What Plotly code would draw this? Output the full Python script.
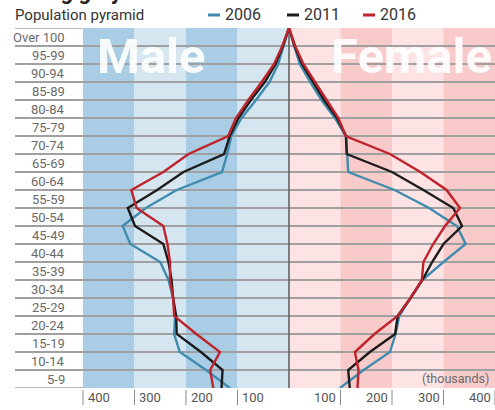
import plotly.graph_objects as go

# ---- data (thousands), listed from the top boundary (oldest) to the bottom boundary ----
age_groups = ["Over 100", "95-99", "90-94", "85-89", "80-84", "75-79", "70-74",
              "65-69", "60-64", "55-59", "50-54", "45-49", "40-44", "35-39",
              "30-34", "25-29", "20-24", "15-19", "10-14", "5-9"]
years = ["2006", "2011", "2016"]

male_2006 = [0, 11, 21, 38, 64, 92, 112, 120, 130, 218, 278, 323, 308, 250, 234, 225, 221, 223, 212, 161, 115]
male_2011 = [0, 12, 26, 47, 74, 98, 115, 126, 205, 256, 313, 299, 244, 234, 228, 225, 219, 218, 171, 129, 131]
male_2016 = [0, 13, 29, 53, 79, 103, 118, 195, 244, 306, 296, 244, 236, 231, 231, 225, 223, 180, 134, 153, 147]

female_2006 = [0, 10, 21, 41, 63, 89, 110, 113, 115, 205, 272, 326, 343, 300, 259, 236, 214, 207, 196, 145, 99]
female_2011 = [0, 11, 25, 46, 68, 93, 111, 112, 200, 261, 319, 336, 300, 278, 259, 236, 211, 206, 157, 115, 118]
female_2016 = [0, 12, 28, 50, 73, 96, 110, 196, 255, 306, 332, 303, 280, 261, 258, 236, 211, 166, 128, 135, 133]

tick_values = [100, 200, 300, 400]

male = {"2006": male_2006, "2011": male_2011, "2016": male_2016}
female = {"2006": female_2006, "2011": female_2011, "2016": female_2016}
colors = {"2006": "#3f8cae", "2011": "#1c1c1c", "2016": "#c0232c"}

FONT = "Roboto"
n = len(male_2006)
levels = list(range(n - 1, -1, -1))  # top boundary -> bottom boundary

fig = go.Figure()
for yr in years:
    xs = [-v for v in reversed(male[yr])] + female[yr][1:]
    ys = list(reversed(levels)) + levels[1:]
    fig.add_trace(go.Scatter(x=xs, y=ys, mode="lines", name=yr,
                             line=dict(color=colors[yr], width=2.4),
                             hoverinfo="skip"))

PW, PH, ML, MT = 480, 360, 15, 28  # plot area size and offsets (px)


def px_x(p):
    return (p - ML) / PW


def px_y(p):
    return 1 - (p - MT) / PH


shapes = []
# background bands
edges = [-400, -300, -200, -100, 0, 100, 200, 300, 400]
band_cols = ["#a9cde4", "#d6e6f1", "#a9cde4", "#d6e6f1",
             "#fde3e3", "#f9caca", "#fde3e3", "#f9caca"]
for i in range(len(edges) - 1):
    shapes.append(dict(type="rect", xref="x", yref="y", x0=edges[i], x1=edges[i + 1],
                       y0=0, y1=n - 1, fillcolor=band_cols[i], line=dict(width=0),
                       layer="below"))
# top and bottom boundary lines
for yv in (0, n - 1):
    shapes.append(dict(type="line", xref="paper", yref="y", x0=0, x1=1, y0=yv, y1=yv,
                       line=dict(color="#a0a0a0", width=1.5), layer="between"))
# centre line
shapes.append(dict(type="line", xref="x", yref="y", x0=0, x1=0, y0=0, y1=n - 1,
                   line=dict(color="#5a5a5a", width=1.5), layer="between"))
# bottom tick separators
for v in tick_values:
    for s in (-1, 1):
        shapes.append(dict(type="line", xref="x", yref="paper", x0=s * v, x1=s * v,
                           y0=px_y(390), y1=px_y(405), line=dict(color="#8a8a8a", width=1)))

annotations = []
# age labels
for i, lab in enumerate(age_groups):
    annotations.append(dict(x=-431, y=(n - 1) - i - 0.5, xref="x", yref="y", text=lab,
                            showarrow=False, xanchor="right", yanchor="middle",
                            font=dict(family=FONT, size=13, color="#6a6a6a")))
# bottom tick labels
for v in tick_values:
    annotations.append(dict(x=-v, y=px_y(398), xref="x", yref="paper", text=str(v),
                            showarrow=False, xanchor="left", yanchor="middle", xshift=3,
                            font=dict(family=FONT, size=13, color="#555555")))
    annotations.append(dict(x=v, y=px_y(398), xref="x", yref="paper", text=str(v),
                            showarrow=False, xanchor="right", yanchor="middle", xshift=-2,
                            font=dict(family=FONT, size=13, color="#555555")))
# unit note
annotations.append(dict(x=392, y=0.55, xref="x", yref="y", text="(thousands)",
                        showarrow=False, xanchor="right", yanchor="middle",
                        font=dict(family=FONT, size=12.5, color="#6a6a6a")))
# big Male / Female labels
annotations.append(dict(x=-376, y=18.42, xref="x", yref="y", text="<b>Male</b>",
                        showarrow=False, xanchor="left", yanchor="middle", opacity=0.92,
                        font=dict(family=FONT, size=49, color="white")))
annotations.append(dict(x=78, y=18.42, xref="x", yref="y", text="<b>Female</b>",
                        showarrow=False, xanchor="left", yanchor="middle", opacity=0.92,
                        font=dict(family=FONT, size=49, color="white")))
# title and cut-off heading
annotations.append(dict(x=px_x(13), y=px_y(15), xref="paper", yref="paper",
                        text="Population pyramid", showarrow=False, xanchor="left",
                        yanchor="middle",
                        font=dict(family=FONT, size=15, color="#333333")))
annotations.append(dict(x=px_x(13), y=px_y(-8), xref="paper", yref="paper",
                        text="<b>Going grey</b>", showarrow=False, xanchor="left",
                        yanchor="middle",
                        font=dict(family=FONT, size=22, color="#222222")))
# legend (dash + label)
leg_x = [208, 287, 363]
for yr, lx in zip(years, leg_x):
    shapes.append(dict(type="line", xref="paper", yref="paper",
                       x0=px_x(lx), x1=px_x(lx + 12),
                       y0=px_y(15), y1=px_y(15),
                       line=dict(color=colors[yr], width=3)))
    annotations.append(dict(x=px_x(lx + 15), y=px_y(15), xref="paper",
                            yref="paper", text=yr, showarrow=False, xanchor="left",
                            yanchor="middle",
                            font=dict(family=FONT, size=16, color="#333333")))

fig.update_layout(
    width=495, height=410,
    margin=dict(l=ML, r=495 - ML - PW, t=MT, b=410 - MT - PH),
    paper_bgcolor="white", plot_bgcolor="white",
    showlegend=False,
    shapes=shapes, annotations=annotations,
    xaxis=dict(range=[-532, 400], showgrid=False, zeroline=False,
               showticklabels=False, ticks="", fixedrange=True),
    yaxis=dict(range=[0, n - 1], tickvals=list(range(n)), showgrid=True,
               gridcolor="#a0a0a0", gridwidth=1.5, zeroline=False,
               showticklabels=False, ticks="", fixedrange=True),
)

fig.write_html("out.html", config={"displayModeBar": False},
               post_script="document.body.style.margin='0';document.body.style.overflow='hidden';")
